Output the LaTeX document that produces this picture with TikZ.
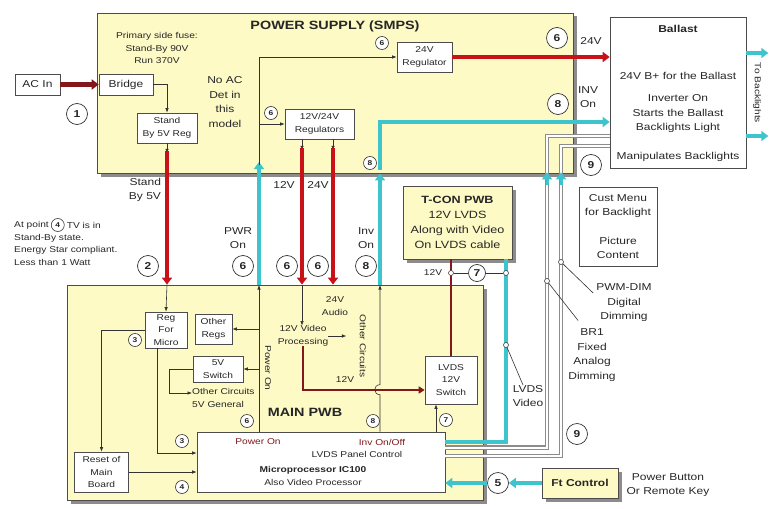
\documentclass[tikz,border=0pt]{standalone}
\usepackage{fontspec}
\setmainfont{Liberation Sans}[FakeStretch=1.2]
\usepackage{tikz}
\usetikzlibrary{
  positioning,
  arrows.meta,
  shadows
}

\definecolor{panelfill}{RGB}{253,250,198}
\definecolor{powred}{RGB}{200,18,24}
\definecolor{lowred}{RGB}{130,24,28}
\definecolor{sigcyan}{RGB}{62,196,205}
\definecolor{dimgray}{RGB}{140,140,140}
\newcommand{\tfont}{\fontsize{8.5}{12.5}\selectfont}
\newcommand{\nfont}{\fontsize{10}{14.5}\selectfont}
\newcommand{\hfont}{\fontsize{12}{14}\selectfont\bfseries}

\begin{document}
\begin{tikzpicture}[x=1pt, y=-1pt,
    every node/.style={text=black!85},
    shadowed/.style={drop shadow={shadow xshift=3.5pt, shadow yshift=-3.5pt, fill=black!45, opacity=1}},
    panel/.style={draw=black!70, line width=0.8pt, fill=panelfill, shadowed},
    blk/.style={draw=black!70, line width=0.6pt, fill=white, align=center, inner sep=1pt, font=\tfont},
    lbl/.style={align=center, inner sep=0pt, font=\tfont},
    num/.style={circle, draw=black!80, line width=0.7pt, fill=white, inner sep=0pt, minimum size=21pt, font=\nfont\bfseries},
    snum/.style={circle, draw=black!80, line width=0.6pt, fill=white, inner sep=0pt, minimum size=13pt, font=\fontsize{7}{8}\selectfont\bfseries},
    tap/.style={circle, draw=black!75, line width=0.6pt, fill=white, inner sep=0pt, minimum size=5pt},
    wire/.style={draw=black!80, line width=0.6pt},
    arr/.style={wire, -{Latex[length=4.5pt,width=3.5pt]}},
    pwr/.style={draw=powred, line width=4.5pt, -{Triangle[length=7pt,width=10pt]}},
    lowpwr/.style={draw=lowred, line width=2.6pt},
    sig/.style={draw=sigcyan, line width=3.5pt},
    sigarr/.style={sig, -{Triangle[length=7pt,width=10pt]}},
    dimline/.style={draw=dimgray, line width=1.1pt, double=white, double distance=2pt}]
\useasboundingbox (0,0) rectangle (770,508);

\node[panel, minimum width=476pt, minimum height=160pt] (smps) at (335,93) {};
\node[panel, minimum width=416pt, minimum height=215pt] (mainpwb) at (275,392.5) {};
\node[font=\hfont] at (335,26) {POWER SUPPLY (SMPS)};
\node[font=\hfont] at (305,412) {MAIN PWB};

% power supply
\node[blk, font=\nfont, minimum width=45pt, minimum height=21pt] (acin) at (37.5,84.5) {AC In};
\node[blk, font=\nfont, minimum width=54pt, minimum height=21pt] (bridge) at (126,84.5) {Bridge};
\node[blk, minimum width=60pt, minimum height=30pt] (sbreg) at (167,128) {Stand\\By 5V Reg};
\node[blk, minimum width=55pt, minimum height=30pt] (reg24) at (424.5,57) {24V\\Regulator};
\node[blk, minimum width=69pt, minimum height=30pt] (regs) at (319.5,124) {12V/24V\\Regulators};
\node[lbl] at (157,48) {Primary side fuse:\\Stand-By 90V\\Run 370V};
\node[lbl, font=\nfont] at (225,102) {No AC\\Det in\\this\\model};

% ballast side
\node[blk, minimum width=136pt, minimum height=151pt] (ballast) at (678,92.5) {};
\node[lbl, font=\nfont\bfseries] at (678,29) {Ballast};
\node[lbl, font=\nfont] at (678,76) {24V B+ for the Ballast};
\node[lbl, font=\nfont] at (678,114) {Inverter On\\Starts the Ballast\\Backlights Light};
\node[lbl, font=\nfont] at (678,157) {Manipulates Backlights};
\node[lbl, rotate=-90] at (757,93) {To Backlights};
\node[blk, font=\nfont, minimum width=78pt, minimum height=79pt] (cust) at (618,226.5) {Cust Menu\\for Backlight\\[14pt]Picture\\Content};
\node[blk, shadowed, fill=panelfill, font=\fontsize{10.5}{15}\selectfont, minimum width=109pt, minimum height=73pt] (tcon) at (457.5,222.5) {\textbf{T-CON PWB}\\12V LVDS\\Along with Video\\On LVDS cable};
\node[blk, shadowed, fill=panelfill, font=\nfont\bfseries, minimum width=76pt, minimum height=30pt] (ftctl) at (580,483) {Ft Control};
\node[lbl, font=\nfont] at (668,485) {Power Button\\Or Remote Key};

% main pwb
\node[blk, minimum width=42pt, minimum height=36pt] (regmicro) at (166,330) {Reg\\For\\Micro};
\node[blk, minimum width=37pt, minimum height=30pt] (othregs) at (213.5,329) {Other\\Regs};
\node[blk, minimum width=50pt, minimum height=26pt] (sw5) at (218,369) {5V\\Switch};
\node[blk, minimum width=54pt, minimum height=40pt] (reset) at (101.5,472) {Reset of\\Main\\Board};
\node[blk, minimum width=248pt, minimum height=60pt] (micro) at (321,462) {};
\node[blk, minimum width=52pt, minimum height=48pt] (lvdssw) at (451,380) {LVDS\\12V\\Switch};
\node[lbl, text=lowred] at (258,442) {Power On};
\node[lbl, text=lowred] at (382,442) {Inv On/Off};
\node[lbl] at (357,454) {LVDS Panel Control};
\node[lbl, font=\tfont\bfseries] at (313,470) {Microprocessor IC100};
\node[lbl] at (313,482) {Also Video Processor};
\node[lbl] (vidproc) at (303,336) {12V Video\\Processing};
\node[lbl] at (335,306) {24V\\Audio};
\node[lbl, rotate=-90] at (363,346) {Other Circuits};
\node[lbl, rotate=-90] at (268,368) {Power On};
\node[lbl, anchor=west, align=left] (oc5) at (192,398) {Other Circuits\\5V General};
\node[lbl] at (345,380) {12V};

% outside labels
\node[lbl, font=\nfont, align=right] at (145,190) {Stand\\By 5V};
\node[lbl, font=\nfont] at (238,238) {PWR\\On};
\node[lbl, font=\nfont] at (284,185) {12V};
\node[lbl, font=\nfont] at (318,185) {24V};
\node[lbl, font=\nfont] at (366,238) {Inv\\On};
\node[lbl, font=\nfont] at (591,41) {24V};
\node[lbl, font=\nfont] at (588,97) {INV\\On};
\node[lbl, anchor=west] (atpt) at (14,225) {At point};
\node[snum, right=2pt of atpt] (n4b) {4};
\node[lbl, right=2pt of n4b] {TV is in};
\node[lbl, anchor=north west, align=left] at (14,234) {Stand-By state.\\Energy Star compliant.\\Less than 1 Watt};
\node[lbl] (tconv) at (433,273) {12V};
\node[lbl, font=\nfont] (lvdsvid) at (528,396) {LVDS\\Video};
\node[lbl, font=\nfont] (pwmdim) at (624,303) {PWM-DIM\\Digital\\Dimming};
\node[lbl, font=\nfont] (br1) at (592,355) {BR1\\Fixed\\Analog\\Dimming};

\coordinate (pwr) at (259,285);
\coordinate (inv) at (380,285);
\coordinate (r12) at ([xshift=-17.5pt]regs.south);
\coordinate (r24) at ([xshift=13.5pt]regs.south);
\coordinate (dimA) at (547,136);
\coordinate (dimB) at (561,146);
\coordinate (upA) at (dimA |- smps.south);
\coordinate (upB) at (dimB |- smps.south);

% supply lines
\draw[pwr, draw=lowred, line width=5pt] (acin.east) -- (bridge.west);
\draw[arr] (bridge.east) -| (sbreg.north);
\draw[arr] (sbreg.south) -- ++(0,10);
\draw[pwr] ([yshift=-8pt]sbreg.south) -- (sbreg.south |- mainpwb.north);
\draw[arr] (sbreg.south |- mainpwb.north) -- (regmicro.north);
\draw[arr] (r12) -- ++(0,11);
\draw[arr] (r24) -- ++(0,11);
\draw[pwr] ([yshift=-9pt]r12) -- (r12 |- mainpwb.north);
\draw[pwr] ([yshift=-9pt]r24) -- (r24 |- mainpwb.north);
\draw[arr] (r12 |- mainpwb.north) -- (r12 |- vidproc.north);
\draw[arr] (vidproc.east) -- ++(18,0);
\draw[pwr] (reg24.east) -- (reg24.east -| ballast.west);
\draw[lowpwr, -{Triangle[length=6pt,width=7pt]}] (vidproc.south) |- ([yshift=-10pt]lvdssw.west);
\draw[lowpwr] (tcon.south -| lvdssw.north) -- (lvdssw.north);

% power on / inverter on
\draw[arr] ([xshift=-62pt]micro.north) -- (pwr);
\draw[sigarr] (pwr) -- ++(0,-123);
\draw[arr] ([yshift=120pt]pwr) |- (reg24.west);
\draw[arr] (pwr |- regs.west) -- (regs.west);
\draw[arr] (pwr |- othregs.east) -- (othregs.east);
\draw[arr] (pwr |- sw5.east) -- (sw5.east);
\draw[sigarr] (inv) -- (inv |- smps.south);
\draw[sigarr] ([yshift=115pt]inv) |- ([yshift=-29.5pt]ballast.west);
\draw[arr] ([xshift=59pt]micro.north) -- ++(0,-37) .. controls +(-7,0) and +(-7,0) .. ++(0,-10) -- (inv);
\draw[arr] ([xshift=115pt]micro.north) -- ([xshift=115pt]micro.north |- lvdssw.south);

% micro side
\draw[arr] (sw5.west) -- ++(-23,0) |- ([yshift=5pt]oc5.west);
\draw[arr] (regmicro.west) -| (reset.north);
\draw[arr] ([xshift=-9pt]regmicro.south) |- ([yshift=9pt]micro.west);
\draw[arr] (reset.east) -- (reset.east -| micro.west);

% video and dimming
\draw[sig] ([xshift=48.5pt]tcon.south) |- ([yshift=20pt]micro.east);
\draw[dimline] ([yshift=14.5pt]micro.east) -| (dimA) -- (dimA -| ballast.west);
\draw[dimline] ([yshift=6pt]micro.east) -| (dimB) -- (dimB -| ballast.west);
\draw[sigarr, line width=3pt] ([yshift=-12pt]upA) -- ([yshift=1pt]upA);
\draw[sigarr, line width=3pt] ([yshift=-12pt]upB) -- ([yshift=1pt]upB);
\draw[sigarr] ([yshift=39.5pt]ballast.east) -- ++(22,0);
\draw[sigarr] ([yshift=-43.5pt]ballast.east) -- ++(22,0);

\node[tap] (d12) at (451,273) {};
\node[tap] (dlv) at (506,273) {};
\node[num, minimum size=17pt] (n7) at (477,273) {7};
\draw[wire] (d12) -- (n7) -- (dlv);
\node[tap] (dvid) at (506,345) {};
\draw[wire] (dvid) -- ([xshift=-5pt]lvdsvid.north);
\node[tap] (dpwm) at (561,262) {};
\draw[wire] (dpwm) -- ([xshift=-3pt,yshift=10pt]pwmdim.west);
\node[tap] (dbr) at (547,281) {};
\draw[wire] (dbr) -- ([xshift=10pt,yshift=8pt]br1.north west);

% front control
\node[num] (n5) at (498,483) {5};
\draw[sigarr] (ftctl.west) -- (n5.east);
\draw[sigarr] (n5.west) -- (micro.east |- n5.west);

% step numbers
\node[num] at (77,114) {1};
\node[num] at (148,266) {2};
\node[num] at (243,266) {6};
\node[num] at (287,266) {6};
\node[num] at (318,266) {6};
\node[num] at (366,266) {8};
\node[num] at (557,38) {6};
\node[num] at (558,104) {8};
\node[num] at (591,165) {9};
\node[num] at (577,434) {9};
\node[snum] at (382,43) {6};
\node[snum] at (271,113) {6};
\node[snum] at (370,163) {8};
\node[snum] at (135,340) {3};
\node[snum] at (182,441) {3};
\node[snum] at (182,487) {4};
\node[snum] at (247,421) {6};
\node[snum] at (373,421) {8};
\node[snum] at (446,420) {7};
\end{tikzpicture}
\end{document}
